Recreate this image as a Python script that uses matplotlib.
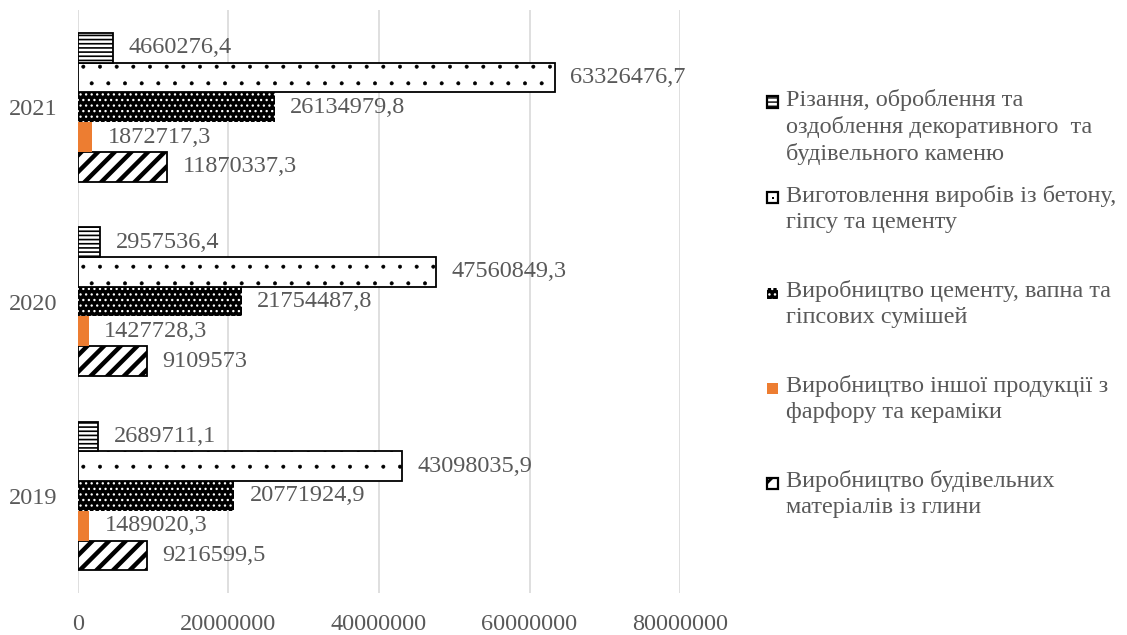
import matplotlib
matplotlib.use("Agg")
import matplotlib.pyplot as plt
from matplotlib.patches import Rectangle
import numpy as np

years = ["2019", "2020", "2021"]

# series listed bottom-to-top inside each year group
glyna = [9216599.5, 9109573, 11870337.3]
farfor = [1489020.3, 1427728.3, 1872717.3]
tsement = [20771924.9, 21754487.8, 26134979.8]
beton = [43098035.9, 47560849.3, 63326476.7]
rizannia = [2689711.1, 2957536.4, 4660276.4]

labels = [
    "Виробництво будівельних\nматеріалів із глини",
    "Виробництво іншої продукції з\nфарфору та кераміки",
    "Виробництво цементу, вапна та\nгіпсових сумішей",
    "Виготовлення виробів із бетону,\nгіпсу та цементу",
    "Різання, оброблення та\nоздоблення декоративного  та\nбудівельного каменю",
]

x_ticks = [0, 20000000, 40000000, 60000000, 80000000]

TEXT = "#595959"
GRID = "#D9D9D9"
ORANGE = "#ED7D31"
FS = 17.5

plt.rcParams["font.family"] = ["Liberation Serif", "DejaVu Serif"]

# face, edge (also hatch colour), line width, hatch, hatch line width
styles = [
    dict(fc="white", ec="black", lw=1.3, hatch="//", hlw=3.2),
    dict(fc=ORANGE, ec=ORANGE, lw=0, hatch=None, hlw=1.0),
    dict(fc="black", ec="white", lw=0, hatch="...", hlw=0.9),
    dict(fc="white", ec="black", lw=1.3, hatch=".", hlw=0.4),
    dict(fc="white", ec="black", lw=1.3, hatch="----", hlw=1.2),
]


def fmt(v):
    s = f"{v:.1f}".rstrip("0").rstrip(".")
    return s.replace(".", ",")


def draw_chart():
    fig = plt.figure(figsize=(11.27, 6.35), dpi=100)
    ax = fig.add_axes([0.0692, 0.066, 0.5342, 0.918])

    series = [glyna, farfor, tsement, beton, rizannia]
    y = np.arange(len(years))
    h = 0.153
    for i, (vals, st) in enumerate(zip(series, styles)):
        with plt.rc_context({"hatch.linewidth": st["hlw"]}):
            bars = ax.barh(y + (i - 2) * h, vals, height=h, facecolor=st["fc"],
                           edgecolor=st["ec"], linewidth=st["lw"], hatch=st["hatch"],
                           zorder=3)
        ax.bar_label(bars, labels=[fmt(v) for v in vals], padding=11,
                     fontsize=FS, color=TEXT)

    ax.set_xlim(0, 80000000)
    ax.set_ylim(-0.5, 2.5)
    ax.set_xticks(x_ticks)
    ax.set_xticklabels([str(t) for t in x_ticks])
    ax.set_yticks(y)
    ax.set_yticklabels(years)
    ax.tick_params(length=0, labelsize=FS, labelcolor=TEXT)
    ax.tick_params(axis="x", pad=15)
    ax.tick_params(axis="y", pad=15)
    ax.grid(axis="x", color=GRID, linewidth=1.2, zorder=0)
    for s in ax.spines.values():
        s.set_visible(False)

    # legend drawn by hand so the key sits on the first line of each entry
    W, H = 1127, 635
    first_line = [102, 198, 293, 388, 483]
    order = [4, 3, 2, 1, 0]
    key_hlw = [2.0, 1.0, 1.0, 1.0, 1.0]
    k = 11
    for yy, idx in zip(first_line, order):
        st = styles[idx]
        with plt.rc_context({"hatch.linewidth": key_hlw[idx]}):
            key = Rectangle((767 / W, 1 - (yy + k / 2) / H), k / W, k / H,
                            transform=fig.transFigure, facecolor=st["fc"],
                            edgecolor=st["ec"], linewidth=1.6 if st["lw"] else 0,
                            hatch=st["hatch"] if idx != 3 else None)
        fig.add_artist(key)
        if idx == 3:
            fig.add_artist(Rectangle((771.5 / W, 1 - (yy + 1) / H), 2 / W, 2 / H,
                                     transform=fig.transFigure, facecolor="black",
                                     linewidth=0))
        fig.text(786 / W, 1 - (yy - 13) / H, labels[idx], fontsize=FS,
                 color=TEXT, va="top", ha="left", linespacing=1.3)

    fig.savefig("out.png", dpi=100)


if __name__ == "__main__":
    draw_chart()
